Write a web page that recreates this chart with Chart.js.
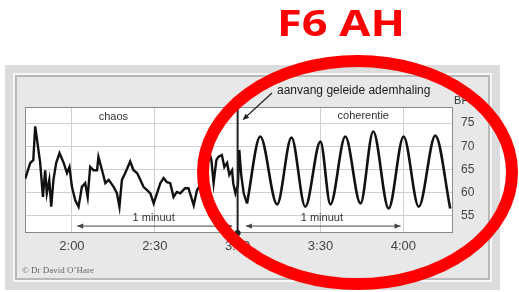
<!DOCTYPE html>
<html>
<head>
<meta charset="utf-8">
<script src="https://cdn.jsdelivr.net/npm/chart.js@4.4.1/dist/chart.umd.min.js"></script>
<style>
  html, body { margin: 0; padding: 0; background: #fff; }
  #chart { display: block; }
</style>
</head>
<body>
<canvas id="chart" width="519" height="292"></canvas>
<script>
// Heart rate (BPM) over time (seconds)
const chaosTimes = [103.1, 104.9, 106, 106.7, 108.5, 109.5, 110.3, 110.9, 111.8, 112.5, 113.3, 114.3, 115.5, 117, 118.2, 119.1, 120, 121.2, 122.4, 123.6, 124.8, 125.7, 126.6, 127.8, 129.1, 129.6, 130.9, 132.1, 133.3, 135.1, 136.3, 137.2, 138.1, 139.3, 141.1, 142.3, 143.6, 144.8, 145.9, 147.2, 148.4, 149.6, 150.8, 152, 153.2, 154.4, 155.6, 156.8, 158, 159.2, 161, 162.2, 164.1, 165.3, 166.5, 167.9, 169.5, 170.5, 171.3, 172.3, 173, 174.3, 175.2, 176.2, 177, 178, 178.4, 179.2, 180.1, 180.6, 181.3, 182.2, 183.4];
const chaosBpm = [63.0, 66.4, 67.0, 74.3, 66.4, 59.0, 64.8, 59.8, 62.7, 56.9, 62.7, 66.4, 68.5, 66.4, 64.2, 65.5, 61.2, 58.3, 56.9, 61.2, 62.0, 59.0, 65.5, 64.8, 64.8, 67.7, 64.8, 62.0, 62.7, 61.2, 59.8, 56.9, 62.7, 64.2, 66.7, 64.8, 64.2, 62.7, 61.2, 60.5, 59.8, 57.6, 59.8, 62.0, 63.1, 62.2, 62.0, 59.0, 60.1, 59.8, 60.9, 60.9, 57.2, 60.5, 61.6, 64.8, 69.2, 67.0, 62.0, 67.0, 67.7, 68.1, 65.5, 66.4, 63.8, 64.8, 62.0, 59.8, 61.6, 69.2, 63.8, 59.8, 57.6];
const coherTimes = [183.4, 188.2, 194.3, 199.5, 204.5, 210, 213.6, 219, 224.5, 229.1, 234.7, 240.1, 245.6, 251.6, 257];
const coherBpm = [57.6, 72.1, 57.4, 71.9, 56.9, 71.0, 57.4, 72.1, 57.6, 73.2, 56.5, 72.1, 56.9, 72.3, 56.5];

const xTickValues = [120, 150, 180, 210, 240];
const xTickLabels = ['2:00', '2:30', '3:00', '3:30', '4:00'];
const yTickValues = [55, 60, 65, 70, 75];

const chartTitle = 'F6 AH';
const startLabel = 'aanvang geleide ademhaling';
const chaosLabel = 'chaos';
const coherLabel = 'coherentie';
const minuteLabel = '1 minuut';
const creditLabel = '\u00A9 Dr David O\u2019Hare';
const yUnitLabel = 'BPM';

const toPoints = (xs, ys) => xs.map((x, i) => ({ x: x, y: ys[i] }));

function arrowHead(ctx, x, y, dir, size) {
    ctx.beginPath();
    ctx.moveTo(x, y);
    ctx.lineTo(x - dir * size, y - size * 0.45);
    ctx.lineTo(x - dir * size, y + size * 0.45);
    ctx.closePath();
    ctx.fill();
}

// frame + white plot background
const framePlugin = {
    id: 'frame',
    beforeDraw(chart) {
        const ctx = chart.ctx;
        const a = chart.chartArea;
        ctx.save();
        ctx.fillStyle = '#dcdcdc';
        ctx.fillRect(5, 65, 495, 225);
        ctx.fillStyle = '#f7f7f7';
        ctx.fillRect(13, 73, 479, 209);
        ctx.fillStyle = '#b9b9b9';
        ctx.fillRect(15, 75, 475, 205);
        ctx.fillStyle = '#e8e8e8';
        ctx.fillRect(17, 77, 471, 201);
        ctx.fillStyle = '#ffffff';
        ctx.fillRect(a.left, a.top, a.right - a.left, a.bottom - a.top);
        ctx.restore();
    },
    beforeDatasetsDraw(chart) {
        const ctx = chart.ctx;
        const a = chart.chartArea;
        ctx.save();
        ctx.strokeStyle = '#8a8a8a';
        ctx.lineWidth = 1;
        ctx.strokeRect(a.left + 0.5, a.top + 0.5, a.right - a.left - 1, a.bottom - a.top - 1);
        ctx.restore();
    }
};

// texts, arrows, the marker line and the red highlight
const notesPlugin = {
    id: 'notes',
    afterDraw(chart) {
        const ctx = chart.ctx;
        const a = chart.chartArea;
        const xs = chart.scales.x;
        const ys = chart.scales.y;
        ctx.save();

        // start of guided breathing
        const xm = xs.getPixelForValue(180);
        ctx.strokeStyle = '#222';
        ctx.fillStyle = '#222';
        ctx.lineWidth = 2;
        ctx.beginPath();
        ctx.moveTo(xm, a.top);
        ctx.lineTo(xm, a.bottom);
        ctx.stroke();
        ctx.beginPath();
        ctx.arc(xm, a.bottom, 3, 0, Math.PI * 2);
        ctx.fill();

        ctx.lineWidth = 1.2;
        ctx.beginPath();
        ctx.moveTo(272, 93);
        ctx.lineTo(xm + 6, 119);
        ctx.stroke();
        const ang = Math.atan2(119 - 93, xm + 6 - 272);
        ctx.beginPath();
        ctx.moveTo(xm + 5, 120);
        ctx.lineTo(xm + 5 - 7 * Math.cos(ang - 0.4), 120 - 7 * Math.sin(ang - 0.4));
        ctx.lineTo(xm + 5 - 7 * Math.cos(ang + 0.4), 120 - 7 * Math.sin(ang + 0.4));
        ctx.closePath();
        ctx.fill();

        ctx.font = '12px "Liberation Sans", Arial, sans-serif';
        ctx.fillStyle = '#222';
        ctx.textAlign = 'left';
        ctx.textBaseline = 'middle';
        ctx.fillText(startLabel, 277, 91);

        ctx.font = '11px "Liberation Sans", Arial, sans-serif';
        ctx.textAlign = 'center';
        ctx.fillStyle = '#333';
        ctx.fillText(chaosLabel, xs.getPixelForValue(135), 117);
        ctx.fillText(coherLabel, xs.getPixelForValue(225.5), 116);

        ctx.fillStyle = '#333';
        ctx.fillText(yUnitLabel, 466, 101);

        // 1 minute arrows
        const yArrow = ys.getPixelForValue(52.7);
        [[121.9, 178, 149.6], [183, 239, 210.5]].forEach(function (seg) {
            const x0 = xs.getPixelForValue(seg[0]);
            const x1 = xs.getPixelForValue(seg[1]);
            ctx.strokeStyle = '#444';
            ctx.fillStyle = '#444';
            ctx.lineWidth = 1;
            ctx.beginPath();
            ctx.moveTo(x0, yArrow);
            ctx.lineTo(x1, yArrow);
            ctx.stroke();
            arrowHead(ctx, x0, yArrow, -1, 6);
            arrowHead(ctx, x1, yArrow, 1, 6);
            ctx.fillStyle = '#333';
            ctx.font = '11px "Liberation Sans", Arial, sans-serif';
            ctx.fillText(minuteLabel, xs.getPixelForValue(seg[2]), yArrow - 8);
        });

        ctx.font = '9px "Liberation Serif", "DejaVu Serif", serif';
        ctx.fillStyle = '#666';
        ctx.textAlign = 'left';
        ctx.fillText(creditLabel, 22, 271);

        // red highlight
        ctx.strokeStyle = '#ff0000';
        ctx.lineWidth = 12;
        ctx.beginPath();
        ctx.ellipse(357.5, 172.5, 154.5, 111.5, 0, 0, Math.PI * 2);
        ctx.stroke();

        // title, stretched to the width it has in the picture
        ctx.fillStyle = '#ff0000';
        ctx.font = 'bold 36px "Open Sans", "Liberation Sans", sans-serif';
        ctx.textAlign = 'center';
        ctx.textBaseline = 'alphabetic';
        const tw = ctx.measureText(chartTitle).width;
        ctx.translate(341, 36);
        ctx.scale(128 / tw, 1);
        ctx.fillText(chartTitle, 0, 0);

        ctx.restore();
    }
};

const chart = new Chart(document.getElementById('chart').getContext('2d'), {
    type: 'line',
    data: {
        datasets: [{
            label: 'chaos',
            data: toPoints(chaosTimes, chaosBpm),
            borderColor: '#111',
            borderWidth: 2.4,
            pointRadius: 0,
            tension: 0,
            fill: false
        }, {
            label: 'coherentie',
            data: toPoints(coherTimes, coherBpm),
            borderColor: '#111',
            borderWidth: 2.6,
            pointRadius: 0,
            cubicInterpolationMode: 'monotone',
            fill: false
        }]
    },
    options: {
        responsive: false,
        animation: false,
        devicePixelRatio: 1,
        layout: { padding: { left: 25, top: 107, right: 0, bottom: 0 } },
        plugins: {
            legend: { display: false },
            tooltip: { enabled: false },
            title: { display: false }
        },
        scales: {
            x: {
                type: 'linear',
                min: 103,
                max: 258,
                afterBuildTicks: (s) => { s.ticks = xTickValues.map(v => ({ value: v })); },
                afterFit: (s) => { s.height = 59; },
                grid: { color: '#cfcfcf', drawTicks: false },
                border: { display: false },
                ticks: {
                    padding: 6,
                    color: '#444',
                    font: { family: '"Liberation Sans", Arial, sans-serif', size: 13 },
                    callback: (v) => xTickLabels[xTickValues.indexOf(v)]
                }
            },
            y: {
                position: 'right',
                min: 51.2,
                max: 78.5,
                afterBuildTicks: (s) => { s.ticks = yTickValues.map(v => ({ value: v })); },
                afterFit: (s) => { s.width = 66; },
                grid: { color: '#cfcfcf', drawTicks: false },
                border: { display: false },
                ticks: {
                    padding: 8,
                    color: '#444',
                    font: { family: '"Liberation Sans", Arial, sans-serif', size: 12 }
                }
            }
        }
    },
    plugins: [framePlugin, notesPlugin]
});
</script>
</body>
</html>
